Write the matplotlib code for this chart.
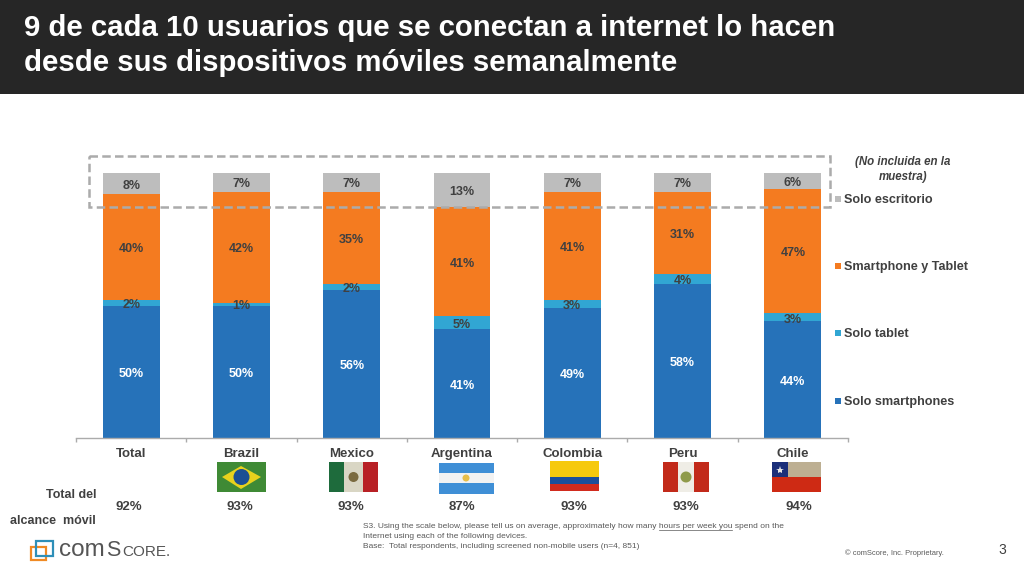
import matplotlib
matplotlib.use("Agg")
import matplotlib.pyplot as plt
from matplotlib.patches import Rectangle, Circle, Polygon
import numpy as np

plt.rcParams['font.family'] = ['Liberation Sans', 'DejaVu Sans']

title_lines = ["9 de cada 10 usuarios que se conectan a internet lo hacen",
               "desde sus dispositivos móviles semanalmente"]
categories = ["Total", "Brazil", "Mexico", "Argentina", "Colombia", "Peru", "Chile"]
solo_smartphones = [50, 50, 56, 41, 49, 58, 44]
solo_tablet = [2, 1, 2, 5, 3, 4, 3]
smartphone_tablet = [40, 42, 35, 41, 41, 31, 47]
solo_escritorio = [8, 7, 7, 13, 7, 7, 6]
reach = [92, 93, 93, 87, 93, 93, 94]
series_names = ["Solo smartphones", "Solo tablet", "Smartphone y Tablet", "Solo escritorio"]
series_colors = ["#2672B9", "#31A6D3", "#F47B20", "#BDBDBD"]
label_colors = ["white", "#404040", "#404040", "#404040"]

W, H = 1024, 575
fig = plt.figure(figsize=(W / 100, H / 100), dpi=100, facecolor="white")

# pixel-space overlay
ov = fig.add_axes([0, 0, 1, 1], zorder=3)
ov.set_xlim(0, W); ov.set_ylim(H, 0); ov.axis("off"); ov.patch.set_alpha(0)
bg = fig.add_axes([0, 0, 1, 1], zorder=0)
bg.set_xlim(0, W); bg.set_ylim(H, 0); bg.axis("off")
bg.add_patch(Rectangle((0, 0), W, 94, color="#262626", lw=0))
for y, line in zip((28, 63), title_lines):
    bg.text(24, y, line, color="white", fontsize=21.2, fontweight="bold", va="center", ha="left")

# bars
ax = fig.add_axes([76 / W, 1 - 438 / H, (848 - 76) / W, (438 - 173) / H], zorder=1)
ax.patch.set_alpha(0)
x = np.arange(len(categories))
bottom = np.zeros(len(categories))
for vals, col, lc in zip([solo_smartphones, solo_tablet, smartphone_tablet, solo_escritorio],
                         series_colors, label_colors):
    bars = ax.bar(x, vals, 0.516, bottom=bottom, color=col, lw=0)
    ax.bar_label(bars, labels=[f"{v}%" for v in vals], label_type="center", padding=-1.5,
                 color=lc, fontsize=9, fontweight="bold")
    bottom += np.array(vals)
ax.set_xlim(-0.5, 6.5); ax.set_ylim(0, 100)
ax.set_yticks([])
for s in ("top", "left", "right"):
    ax.spines[s].set_visible(False)
ax.spines["bottom"].set_color("#ABABAB")
ax.spines["bottom"].set_linewidth(1)
ax.set_xticks(x)
ax.set_xticklabels(categories, fontsize=9.5, fontweight="bold", color="#404040")
ax.tick_params(axis="x", which="major", length=0, pad=7.5)
ax.set_xticks(np.arange(-0.5, 7), minor=True)
ax.tick_params(axis="x", which="minor", length=3, color="#ABABAB", width=1)

# dashed box
ov.add_patch(Rectangle((89, 156), 741, 51, fill=False, ec="#ABABAB", lw=1.8, ls=(0, (3.4, 1.7))))
ov.text(903, 169.5, "(No incluida en la\nmuestra)", fontsize=8.3, fontweight="bold", style="italic",
        color="#404040", ha="center", va="center", linespacing=1.4)

# legend
for name, col, y in zip(series_names, series_colors, (401, 333, 266, 199)):
    ov.add_patch(Rectangle((835, y - 3), 6, 6, color=col, lw=0))
    ov.text(844, y + 0.8, name, fontsize=9.1, fontweight="bold", color="#404040", va="center", ha="left")

# reach row
for xp, v in zip((129, 240, 351, 462, 574, 686, 799), reach):
    ov.text(xp, 506.5, f"{v}%", fontsize=9.5, fontweight="bold", color="#404040", ha="center", va="center")
ov.text(96, 495.5, "Total del", fontsize=9, fontweight="bold", color="#404040", ha="right", va="center")
ov.text(96, 521.5, "alcance  móvil", fontsize=9, fontweight="bold", color="#404040", ha="right", va="center")

# flags
def rect(x, y, w, h, c, z=4):
    ov.add_patch(Rectangle((x, y), w, h, color=c, lw=0, zorder=z))

# Brazil
rect(217, 462, 49, 30, "#3F8A35")
ov.add_patch(Polygon([(222, 477), (241, 466), (261, 477), (241, 489)], color="#E8D21D", lw=0, zorder=5))
ov.add_patch(Circle((241.5, 477), 8, color="#1C4F94", lw=0, zorder=6))
# Mexico
rect(329, 462, 15, 30, "#1E6B3C"); rect(344, 462, 19, 30, "#D9D6C4"); rect(363, 462, 15, 30, "#B82025")
ov.add_patch(Circle((353.5, 477), 5, color="#7A6A3F", lw=0, zorder=5))
# Argentina
rect(439, 463, 55, 31, "#3F8FD6"); rect(439, 473, 55, 10, "#F2F2F2")
ov.add_patch(Circle((466, 478), 3.5, color="#E8BE4A", lw=0, zorder=5))
# Colombia
rect(550, 461, 49, 16, "#F6C90E"); rect(550, 477, 49, 7, "#1B4F9C"); rect(550, 484, 49, 7, "#D12B1E")
# Peru
rect(663, 462, 15, 30, "#C22A1A"); rect(678, 462, 16, 30, "#EFEDE6"); rect(694, 462, 15, 30, "#C22A1A")
ov.add_patch(Circle((686, 477), 5.5, color="#8F9A4A", lw=0, zorder=5))
# Chile
rect(772, 462, 49, 15, "#BDAF92"); rect(772, 462, 16, 15, "#1B2F7A"); rect(772, 477, 49, 15, "#CE2A14")
ov.plot([780], [469.5], marker="*", ms=6, color="#E6E6E6", mew=0, zorder=5)

# footnote
foot = ["S3. Using the scale below, please tell us on average, approximately how many hours per week you spend on the",
        "Internet using each of the following devices.",
        "Base:  Total respondents, including screened non-mobile users (n=4, 851)"]
for y, t in zip((526, 536, 547), foot):
    ov.text(363, y, t, fontsize=6, color="#595959", va="center", ha="left")
ov.plot([659, 732], [530, 530], color="#595959", lw=0.5)
ov.text(845, 553, "© comScore, Inc. Proprietary.", fontsize=5.4, color="#595959", va="center", ha="left")
ov.text(1002, 550, "3", fontsize=10, color="#404040", ha="center", va="center")

# logo
ov.add_patch(Rectangle((31, 547), 15, 13, fill=False, ec="#F08A24", lw=1.6))
ov.add_patch(Rectangle((36, 541), 17, 15, fill=False, ec="#2E8FB8", lw=1.6))
ov.text(59, 556, "com", fontsize=17.5, color="#555555", va="baseline", ha="left")
ov.text(106, 556, "S", fontsize=15.5, color="#555555", va="baseline", ha="left")
ov.text(122, 556, "CORE.", fontsize=11, color="#555555", va="baseline", ha="left")

fig.savefig("out.png", dpi=100, facecolor="white")
